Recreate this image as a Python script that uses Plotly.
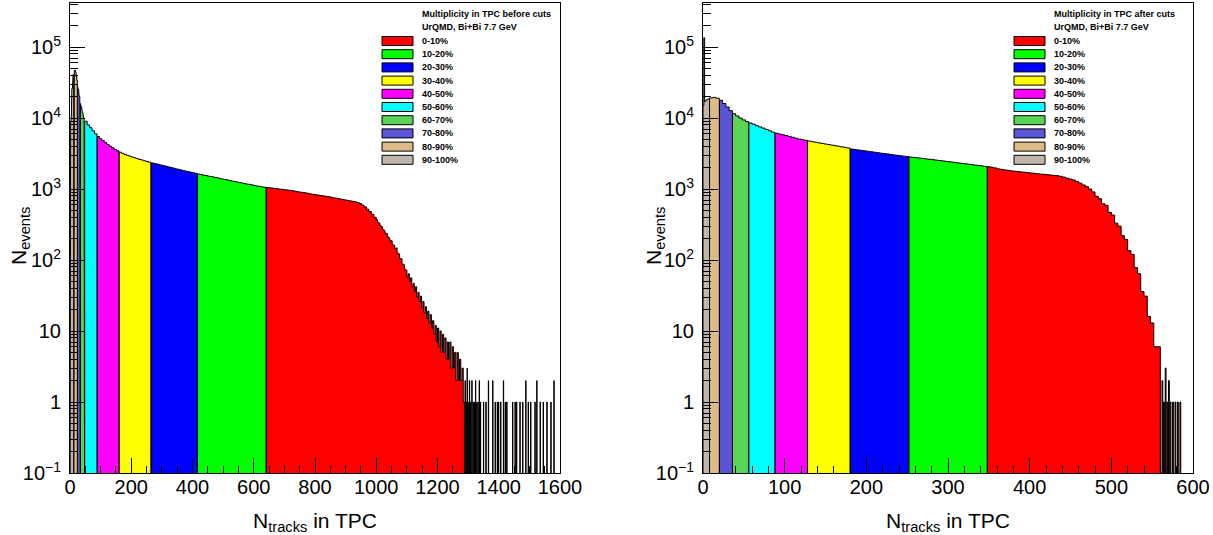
import plotly.graph_objects as go

W, H = 1213, 535
FONT = "Liberation Sans, Arial, Helvetica, sans-serif"

# ---------------- data ----------------
CLASS_LABELS = ["0-10%", "10-20%", "20-30%", "30-40%", "40-50%",
                "50-60%", "60-70%", "70-80%", "80-90%", "90-100%"]
CLASS_COLORS = ["#ff0000", "#00ff00", "#0000ff", "#ffff00", "#ff00ff",
                "#00ffff", "#59d454", "#5954d8", "#deba87", "#c0b6ac"]

Y_TICK_VALS = [0.1, 1, 10, 100, 1e3, 1e4, 1e5]
Y_TICK_TEXT = ["10<sup>\u22121</sup>", "1", "10", "10<sup>2</sup>",
               "10<sup>3</sup>", "10<sup>4</sup>", "10<sup>5</sup>"]

# Left panel: multiplicity before cuts
left_header = "Multiplicity in TPC before cuts"
left_fine_start, left_fine_width = 0, 2
left_fine_counts = [3000, 9000, 17000, 26000, 34000, 41000, 45000, 47000,
                    47000, 44000, 39000, 34000, 29500, 25500, 22500, 20000,
                    18000, 16000, 14500, 13200, 12000, 11000, 10200, 9500]
left_main_start, left_main_width = 48, 8
left_main_counts = [
    # 48..88
    9000, 8000, 7300, 6600, 6000,
    # 88..160
    5500, 5100, 4800, 4500, 4250, 4000, 3800, 3600, 3450,
    # 160..264
    3300, 3180, 3080, 2980, 2900, 2820, 2750, 2680, 2610, 2560, 2500, 2440, 2390,
    # 264..416
    2330, 2290, 2250, 2200, 2160, 2120, 2080, 2040, 2000, 1960, 1920, 1890,
    1850, 1810, 1780, 1750, 1720, 1690, 1650,
    # 416..640
    1620, 1600, 1570, 1550, 1520, 1500, 1480, 1450, 1430, 1400, 1380, 1360,
    1340, 1310, 1290, 1270, 1250, 1230, 1210, 1190, 1170, 1160, 1140, 1120,
    1100, 1090, 1070, 1060,
    # 640..1000
    1050, 1040, 1030, 1020, 1010, 1000, 990, 980,
    970, 960, 950, 940, 925, 910, 900, 890, 880, 865, 850, 840,
    830, 820, 810, 800, 790, 780, 770, 755, 745, 735, 720, 710, 700,
    690, 680, 670, 660, 645, 625, 595, 560, 520, 480, 440, 400,
]
left_fall_start, left_fall_width = 1000, 4
left_fall_counts = [
    # 1000..1096
    370, 340, 330, 305, 295, 270, 262, 240, 236, 212, 205, 190,
    186, 165, 162, 145, 148, 125, 122, 105, 104, 88, 86, 74,
    # 1096..1192
    72, 58, 64, 50, 56, 42, 47, 36, 42, 30, 35, 26,
    31, 21, 26, 18, 22, 15, 19, 13, 17, 11, 14, 9,
    # 1192..1288
    12, 7, 11, 6, 10, 5, 9, 5, 8, 4, 7, 4,
    7, 3, 6, 3, 5, 2, 5, 2, 4, 2, 3, 1,
]
left_tail_width = 1
left_tail_x = [1290, 1294, 1296, 1300, 1304, 1308, 1312, 1316, 1320, 1324,
               1328, 1332, 1336, 1340, 1350, 1358, 1366, 1380, 1388, 1395,
               1399, 1406, 1415, 1421, 1426, 1445, 1453, 1458, 1469, 1478,
               1488, 1496, 1504, 1518, 1524, 1535, 1545, 1557, 1570, 1580]
left_tail_counts = [2, 1, 3, 1, 2, 1, 2, 1, 1, 2,
                    1, 1, 2, 1, 1, 1, 2, 2, 1, 1,
                    1, 1, 2, 1, 1, 1, 1, 1, 1, 1,
                    2, 1, 1, 1, 2, 1, 1, 1, 1, 2]
# class edges: (low, high) for 0-10% ... 90-100%
left_class_low = [640, 416, 264, 160, 88, 48, 34, 24, 12, 0]
left_class_high = [1600, 640, 416, 264, 160, 88, 48, 34, 24, 12]
left_x_max = 1600

# Right panel: multiplicity after cuts
right_header = "Multiplicity in TPC after cuts"
right_fine_start, right_fine_width = 0, 1
right_fine_counts = [15000, 135000, 17000, 17500, 18000, 18300, 18500, 18700]
right_main_start, right_main_width = 8, 4
right_main_counts = [
    # 8..20
    19200, 19500, 19000,
    # 20..36
    17800, 16000, 14300, 12700,
    # 36..56
    11500, 10700, 10000, 9400, 8900,
    # 56..88
    8500, 8200, 7800, 7500, 7200, 6900, 6600, 6300,
    # 88..128
    6100, 5950, 5800, 5650, 5500, 5350, 5200, 5050, 4950, 4850,
    # 128..180
    4750, 4650, 4560, 4470, 4390, 4310, 4230, 4150, 4080, 4000, 3930, 3860, 3780,
    # 180..252
    3650, 3600, 3550, 3500, 3450, 3400, 3350, 3300, 3250, 3200, 3160, 3120,
    3070, 3020, 2980, 2940, 2900, 2860,
    # 252..348
    2820, 2790, 2760, 2720, 2690, 2650, 2620, 2590, 2550, 2520, 2490, 2450,
    2420, 2390, 2350, 2320, 2290, 2260, 2230, 2200, 2170, 2140, 2110, 2080,
    # 348..560
    2060, 2020, 1980, 1920, 1890, 1860, 1830, 1800, 1780, 1760, 1740, 1720,
    1700, 1680, 1660, 1640, 1620, 1610, 1590, 1570, 1555, 1540, 1510, 1470,
    1420, 1380, 1340, 1280, 1210, 1140, 1080, 1000, 910, 790, 730, 620,
    590, 470, 430, 330, 300, 220, 195, 135, 120, 78, 64, 36, 31, 16, 13, 6, 6,
]
right_tail_width = 1
right_tail_x = [562, 564, 566, 568, 570, 572, 575, 578, 581, 584]
right_tail_counts = [2, 1, 3, 1, 2, 1, 1, 1, 1, 1]
right_class_low = [348, 252, 180, 128, 88, 56, 36, 20, 8, 0]
right_class_high = [600, 348, 252, 180, 128, 88, 56, 36, 20, 8]
right_x_max = 600

SYSTEM_LABEL = "UrQMD, Bi+Bi 7.7 GeV"
X_TITLE = "N<sub>tracks</sub> in TPC"
Y_TITLE = "N<sub>events</sub>"

# ---------------- helpers ----------------
Y_LOG_RANGE = [-1, 5.62]
FLOOR = 10 ** (Y_LOG_RANGE[0] - 2)


def build_bins(segments, tx, tc, tw):
    bins = []
    for start, width, counts in segments:
        for i, c in enumerate(counts):
            lo = start + i * width
            bins.append((lo, lo + width, c))
    for x, c in zip(tx, tc):
        bins.append((x, x + tw, c))
    return bins


def class_outline(bins, lo, hi):
    xs, ys = [], []
    prev = None
    for b_lo, b_hi, c in bins:
        if b_lo < lo or b_lo >= hi:
            continue
        if prev is None:
            xs.append(b_lo)
            ys.append(FLOOR)
        elif b_lo > prev + 1e-9:
            xs += [prev, b_lo]
            ys += [FLOOR, FLOOR]
        xs += [b_lo, b_hi]
        ys += [c, c]
        prev = b_hi
    xs.append(prev)
    ys.append(FLOOR)
    return xs, ys


def px(x):
    return x / W


def py(y):
    return 1 - y / H


fig = go.Figure()

panels = [
    dict(bins=build_bins([(left_fine_start, left_fine_width, left_fine_counts),
                          (left_main_start, left_main_width, left_main_counts),
                          (left_fall_start, left_fall_width, left_fall_counts)],
                         left_tail_x, left_tail_counts, left_tail_width),
         low=left_class_low, high=left_class_high, xa="x", ya="y"),
    dict(bins=build_bins([(right_fine_start, right_fine_width, right_fine_counts),
                          (right_main_start, right_main_width, right_main_counts)],
                         right_tail_x, right_tail_counts, right_tail_width),
         low=right_class_low, high=right_class_high, xa="x2", ya="y2"),
]

for p in panels:
    for i in range(len(CLASS_LABELS)):
        xs, ys = class_outline(p["bins"], p["low"][i], p["high"][i])
        fig.add_trace(go.Scatter(
            x=xs, y=ys, mode="lines", fill="toself",
            fillcolor=CLASS_COLORS[i],
            line=dict(color="black", width=1),
            xaxis=p["xa"], yaxis=p["ya"],
            hoverinfo="skip", showlegend=False, name=CLASS_LABELS[i]))

minor_log_vals = [m * 10 ** e for e in range(-1, 6) for m in range(2, 10)]

common = dict(showline=True, linecolor="black", linewidth=1, mirror=True,
              ticks="inside", tickcolor="black", tickwidth=1, showgrid=False,
              zeroline=False, automargin=False,
              tickfont=dict(family=FONT, size=20, color="black"))

y_common = dict(common, type="log", range=Y_LOG_RANGE,
                domain=[py(473), py(3)], tickmode="array",
                tickvals=Y_TICK_VALS, ticktext=Y_TICK_TEXT, ticklen=15,
                ticklabelstandoff=4,
                minor=dict(tickmode="array", tickvals=minor_log_vals,
                           ticks="inside", ticklen=8, tickcolor="black"))

x_common = dict(common, ticklen=15, tick0=0, ticklabelstandoff=-4)

fig.update_layout(
    template="none",
    width=W, height=H, autosize=False,
    margin=dict(l=0, r=0, t=0, b=0, pad=0),
    paper_bgcolor="white", plot_bgcolor="white",
    showlegend=False,
    xaxis=dict(x_common, domain=[px(70), px(560)], range=[0, left_x_max],
               dtick=200, anchor="y",
               minor=dict(dtick=50, ticks="inside", ticklen=7,
                          tickcolor="black")),
    yaxis=dict(y_common, anchor="x"),
    xaxis2=dict(x_common, domain=[px(703), px(1193)], range=[0, right_x_max],
                dtick=100, anchor="y2",
                minor=dict(dtick=20, ticks="inside", ticklen=7,
                           tickcolor="black")),
    yaxis2=dict(y_common, anchor="x2"),
)

annotations = []
shapes = []
for (xc, ytitle_x, header, box_x0, text_x) in [
        (315, 20, left_header, 382, 420),
        (948, 655, right_header, 1014, 1052)]:
    annotations.append(dict(text=X_TITLE, x=px(xc), y=py(522), xref="paper",
                            yref="paper", xanchor="center", yanchor="middle",
                            showarrow=False,
                            font=dict(family=FONT, size=21, color="black")))
    annotations.append(dict(text=Y_TITLE, x=px(ytitle_x), y=py(236),
                            xref="paper", yref="paper", textangle=-90,
                            xanchor="center", yanchor="middle",
                            showarrow=False,
                            font=dict(family=FONT, size=21, color="black")))
    for k, t in enumerate([header, SYSTEM_LABEL]):
        annotations.append(dict(text="<b>" + t + "</b>", x=px(text_x),
                                y=py(14 + 13 * k), xref="paper", yref="paper",
                                xanchor="left", yanchor="middle",
                                showarrow=False,
                                font=dict(family=FONT, size=9, color="black")))
    for i, lab in enumerate(CLASS_LABELS):
        yc = 41 + 13.2 * i
        shapes.append(dict(type="rect", xref="paper", yref="paper",
                           x0=px(box_x0), x1=px(box_x0 + 31),
                           y0=py(yc + 4.5), y1=py(yc - 4.5),
                           fillcolor=CLASS_COLORS[i],
                           line=dict(color="black", width=1)))
        annotations.append(dict(text="<b>" + lab + "</b>", x=px(text_x),
                                y=py(yc), xref="paper", yref="paper",
                                xanchor="left", yanchor="middle",
                                showarrow=False,
                                font=dict(family=FONT, size=9, color="black")))

fig.update_layout(annotations=annotations, shapes=shapes)

fig.write_html("out.html", config={"displayModeBar": False},
               post_script="document.body.style.margin='0';")
